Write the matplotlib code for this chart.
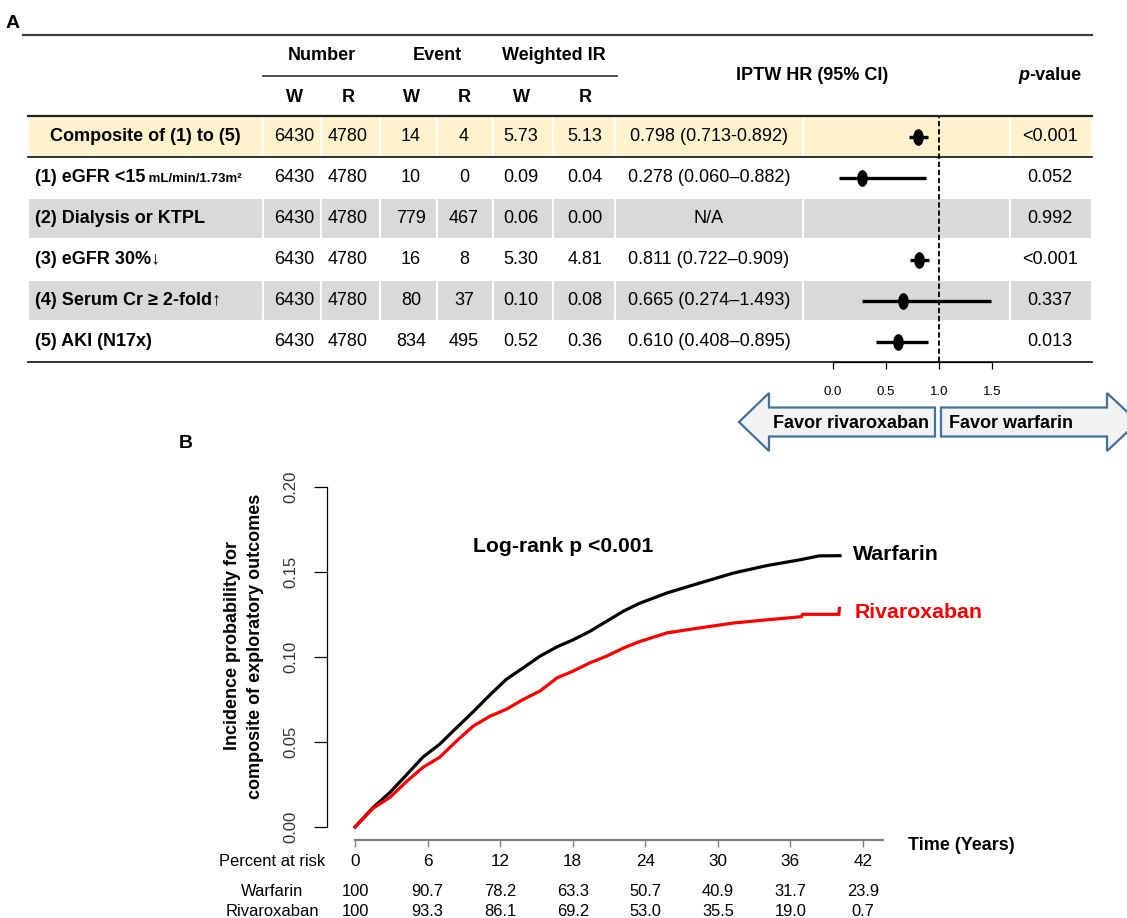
import matplotlib
matplotlib.use("Agg")
import matplotlib.pyplot as plt
import numpy as np
from matplotlib import font_manager as fm
from matplotlib.patches import Rectangle, Polygon
from matplotlib.path import Path

# ---------------- data ----------------
row_labels = ["Composite of (1) to (5)", "(1) eGFR <15", "(2) Dialysis or KTPL",
              "(3) eGFR 30%\u2193", "(4) Serum Cr \u2265 2-fold\u2191", "(5) AKI (N17x)"]
row_suffix = ["", " mL/min/1.73m\u00b2", "", "", "", ""]
number_w = [6430, 6430, 6430, 6430, 6430, 6430]
number_r = [4780, 4780, 4780, 4780, 4780, 4780]
event_w = [14, 10, 779, 16, 80, 834]
event_r = [4, 0, 467, 8, 37, 495]
ir_w = ["5.73", "0.09", "0.06", "5.30", "0.10", "0.52"]
ir_r = ["5.13", "0.04", "0.00", "4.81", "0.08", "0.36"]
hr = [0.798, 0.278, np.nan, 0.811, 0.665, 0.610]
hr_lo = [0.713, 0.060, np.nan, 0.722, 0.274, 0.408]
hr_hi = [0.892, 0.882, np.nan, 0.909, 1.493, 0.895]
hr_text = ["0.798 (0.713-0.892)", "0.278 (0.060\u20130.882)", "N/A",
           "0.811 (0.722\u20130.909)", "0.665 (0.274\u20131.493)", "0.610 (0.408\u20130.895)"]
p_values = ["<0.001", "0.052", "0.992", "<0.001", "0.337", "0.013"]
forest_ticks = [0.0, 0.5, 1.0, 1.5]

km_time_w = [0, 1.5, 2.9, 4.3, 5.6, 7.0, 8.4, 9.8, 11.2, 12.5, 13.9, 15.3, 16.7, 18.0,
             19.4, 20.8, 22.2, 23.5, 25.8, 28.5, 31.3, 34.0, 36.8, 38.4, 40.1]
km_w = [0, 0.0115, 0.0204, 0.031, 0.041, 0.0487, 0.0584, 0.068, 0.078, 0.0868, 0.0936,
        0.1005, 0.106, 0.110, 0.115, 0.121, 0.127, 0.1315, 0.1377, 0.1435, 0.1494,
        0.1537, 0.1572, 0.1595, 0.1596]
km_time_r = [0, 1.5, 2.9, 4.3, 5.6, 7.0, 8.4, 9.8, 11.2, 12.5, 13.9, 15.3, 16.7, 18.0,
             19.4, 20.8, 22.2, 23.5, 25.8, 28.5, 31.3, 33.5, 36.9, 37.0, 40.0, 40.05]
km_r = [0, 0.011, 0.0175, 0.027, 0.035, 0.041, 0.0506, 0.0595, 0.0653, 0.0692, 0.075,
        0.080, 0.0877, 0.0916, 0.0965, 0.1005, 0.1053, 0.109, 0.1142, 0.1171, 0.120,
        0.1215, 0.1237, 0.1251, 0.1251, 0.1286]
risk_times = [0, 6, 12, 18, 24, 30, 36, 42]
risk_w = ["100", "90.7", "78.2", "63.3", "50.7", "40.9", "31.7", "23.9"]
risk_r = ["100", "93.3", "86.1", "69.2", "53.0", "35.5", "19.0", "0.7"]
y_ticks = [0.00, 0.05, 0.10, 0.15, 0.20]

# ---------------- fonts ----------------
names = {f.name for f in fm.fontManager.ttflist}
SANS = ["Liberation Sans", "DejaVu Sans"]
plt.rcParams["font.family"] = SANS
if "Liberation Sans Narrow" in names:
    def narrow(size):
        return dict(family=["Liberation Sans Narrow", "DejaVu Sans"], fontsize=size)
else:
    def narrow(size):
        return dict(family=SANS, fontsize=size * 0.95)

W, H = 1127, 918
fig = plt.figure(figsize=(W / 100, H / 100), dpi=100)
ax = fig.add_axes([0, 0, 1, 1])
ax.set_xlim(0, W)
ax.set_ylim(H, 0)
ax.axis("off")

TS = 13  # table font size
ax.text(13, 24, "A", fontsize=14, fontweight="bold", ha="center", va="center")

# table geometry (pixels)
col_bounds = [28, 263, 321, 380, 437, 493, 553, 615, 803, 1010, 1092]
num_cols = [294, 348, 411, 464, 521, 585]
row_y = [136.5, 177.5, 218.5, 259.5, 300.5, 341.5]
row_h = 41
bg = ["#FFF2CC", None, "#D9D9D9", None, "#D9D9D9", None]

for i, c in enumerate(bg):
    if c is None:
        continue
    for a, b in zip(col_bounds[:-1], col_bounds[1:]):
        ax.add_patch(Rectangle((a, row_y[i] - row_h / 2), b - a, row_h,
                               facecolor=c, edgecolor="white", lw=1.5, zorder=1))

# lines
ax.plot([23, 1092], [35, 35], color="#404040", lw=1.6, zorder=3)
ax.plot([263, 617], [76, 76], color="#404040", lw=1.3, zorder=3)
ax.plot([28, 1092], [116, 116], color="#222222", lw=1.6, zorder=3)
ax.plot([28, 1092], [157, 157], color="#222222", lw=1.3, zorder=3)
ax.plot([28, 1092], [362, 362], color="#222222", lw=1.3, zorder=3)

# headers
ax.text(322, 56, "Number", fontsize=TS, fontweight="bold", ha="center", va="center")
ax.text(437, 56, "Event", fontsize=TS, fontweight="bold", ha="center", va="center")
ax.text(554, 56, "Weighted IR", fontsize=TS, fontweight="bold", ha="center", va="center")
for k, x in enumerate(num_cols):
    ax.text(x, 97, "W" if k % 2 == 0 else "R", fontsize=TS, fontweight="bold",
            ha="center", va="center")
ax.text(812, 76, "IPTW HR (95% CI)", fontsize=TS, fontweight="bold", ha="center", va="center")

fig.canvas.draw()
renderer = fig.canvas.get_renderer()


def width_px(t):
    return t.get_window_extent(renderer).width


# p-value header: italic p + bold "-value"
t1 = ax.text(0, 76, "p", fontsize=TS, fontweight="bold", style="italic", va="center")
t2 = ax.text(0, 76, "-value", fontsize=TS, fontweight="bold", va="center")
w1, w2 = width_px(t1), width_px(t2)
x0 = 1050 - (w1 + w2) / 2
t1.set_x(x0)
t2.set_x(x0 + w1)

# rows
for i in range(6):
    y = row_y[i]
    if i == 0:
        ax.text(145, y, row_labels[i], fontsize=TS, fontweight="bold", ha="center",
                va="center", zorder=4)
    else:
        tl = ax.text(35, y, row_labels[i], fontsize=TS, fontweight="bold", ha="left",
                     va="center", zorder=4)
        if row_suffix[i]:
            ws = width_px(tl)
            ax.text(35 + ws, y + 1, row_suffix[i], fontsize=9.5, fontweight="bold",
                    ha="left", va="center", zorder=4)
    vals = [number_w[i], number_r[i], event_w[i], event_r[i], ir_w[i], ir_r[i]]
    for x, v in zip(num_cols, vals):
        ax.text(x, y, str(v), fontsize=TS, ha="center", va="center", zorder=4)
    ax.text(709, y, hr_text[i], fontsize=TS, ha="center", va="center", zorder=4)
    ax.text(1050, y, p_values[i], fontsize=TS, ha="center", va="center", zorder=4)

# favour arrows
arrow_fc, arrow_ec = "#F2F2F2", "#41719C"
left_arrow = [(739, 422), (769, 393), (769, 407.5), (935, 407.5), (935, 436.5),
              (769, 436.5), (769, 451)]
right_arrow = [(941, 407.5), (1107, 407.5), (1107, 393), (1138, 422), (1107, 451),
               (1107, 436.5), (941, 436.5)]
for pts in (left_arrow, right_arrow):
    ax.add_patch(Polygon(pts, closed=True, facecolor=arrow_fc, edgecolor=arrow_ec,
                         lw=1.6, zorder=2))
ax.text(851, 423, "Favor rivaroxaban", fontsize=TS, fontweight="bold", ha="center",
        va="center", zorder=4)
ax.text(1011, 423, "Favor warfarin", fontsize=TS, fontweight="bold", ha="center",
        va="center", zorder=4)

# ---------------- forest plot ----------------
fx0, fx1, fy0, fy1 = 803, 1010, 116, 362
axf = fig.add_axes([fx0 / W, 1 - fy1 / H, (fx1 - fx0) / W, (fy1 - fy0) / H])
axf.patch.set_visible(False)
px_per = 106.0
axf.set_xlim((fx0 - 833) / px_per, (fx1 - 833) / px_per)
axf.set_ylim(5.5, -0.5)
for s in ("top", "right", "left"):
    axf.spines[s].set_visible(False)
axf.spines["bottom"].set_bounds(forest_ticks[0], forest_ticks[-1])
axf.spines["bottom"].set_linewidth(0.9)
axf.set_yticks([])
axf.set_xticks(forest_ticks)
axf.set_xticklabels([f"{t:.1f}" for t in forest_ticks], **narrow(10))
axf.tick_params(axis="x", direction="out", length=5, width=0.9, pad=12)
axf.axvline(1.0, color="black", lw=1.3, ls=(0, (3, 1.5)), zorder=2)
circ = Path.unit_circle()
ellipse = Path(circ.vertices * np.array([0.6, 1.0]), circ.codes)
ys = np.arange(6)
axf.hlines(ys, hr_lo, hr_hi, color="black", lw=2.4, zorder=3)
axf.plot(hr, ys, ls="none", marker=ellipse, ms=11, color="black", zorder=4)

# ---------------- KM plot ----------------
kx0, kx1, ky_top, ky_bot = 327, 883, 487, 840
x_zero, x_per = 355, 12.095
y_zero, y_per = 827, 1700.0
axk = fig.add_axes([kx0 / W, 1 - ky_bot / H, (kx1 - kx0) / W, (ky_bot - ky_top) / H])
axk.patch.set_visible(False)
axk.set_xlim((kx0 - x_zero) / x_per, (kx1 - x_zero) / x_per)
axk.set_ylim(-(ky_bot - y_zero) / y_per, (y_zero - ky_top) / y_per)
axk.spines["top"].set_visible(False)
axk.spines["right"].set_visible(False)
axk.spines["left"].set_bounds(0, 0.2)
axk.spines["left"].set_linewidth(0.9)
axk.spines["bottom"].set_bounds(0, (kx1 - x_zero) / x_per)
axk.spines["bottom"].set_color("#808080")
axk.spines["bottom"].set_linewidth(1.6)

axk.plot(km_time_w, km_w, color="black", lw=2.3, solid_joinstyle="miter")
axk.plot(km_time_r, km_r, color="#FF0000", lw=2.3, solid_joinstyle="miter")

axk.set_yticks(y_ticks)
axk.set_yticklabels([f"{v:.2f}" for v in y_ticks], fontsize=12, color="#333333")
for lab in axk.get_yticklabels():
    lab.set_rotation(90)
    lab.set_va("center")
axk.tick_params(axis="y", direction="out", length=9.5, width=0.9, pad=11)

axk.set_xticks(risk_times)
axk.set_xticklabels([str(t) for t in risk_times], **narrow(13))
axk.tick_params(axis="x", direction="out", length=5, width=1.0, color="#808080", pad=5)

trans = axk.get_xaxis_transform()


def ay(py):
    return (ky_bot - py) / (ky_bot - ky_top)


for t, a, b in zip(risk_times, risk_w, risk_r):
    axk.text(t, ay(891), a, ha="center", va="center", transform=trans, **narrow(12.5))
    axk.text(t, ay(911), b, ha="center", va="center", transform=trans, **narrow(12.5))

ax.text(272, 862, "Percent at risk", ha="center", va="center", **narrow(12.5))
ax.text(272, 891, "Warfarin", ha="center", va="center", **narrow(12.5))
ax.text(272, 911, "Rivaroxaban", ha="center", va="center", **narrow(12.5))

ax.text(908, 845, "Time (Years)", fontsize=13, fontweight="bold", ha="left", va="center")
ax.text(186, 444, "B", fontsize=14, fontweight="bold", ha="center", va="center")
ax.text(244, 646, "Incidence probability for\ncomposite of exploratory outcomes",
        fontsize=13, fontweight="bold", rotation=90, ha="center", va="center",
        linespacing=1.4, multialignment="center")
ax.text(473, 546, "Log-rank p <0.001", fontsize=15.2, fontweight="bold", ha="left",
        va="center")
ax.text(853, 554, "Warfarin", fontsize=15.3, fontweight="bold", ha="left", va="center")
ax.text(855, 613, "Rivaroxaban", fontsize=15.3, fontweight="bold", color="#FF0000",
        ha="left", va="center")

fig.savefig("out.png", dpi=100)
